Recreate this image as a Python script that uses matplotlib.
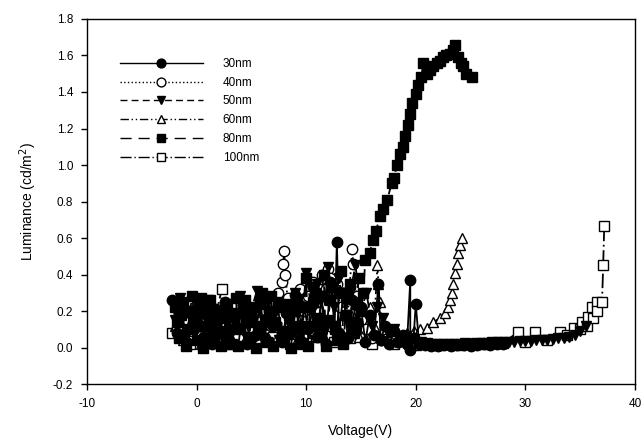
import matplotlib
matplotlib.use("Agg")
import matplotlib.pyplot as plt

plt.rcParams['font.family'] = ['Liberation Sans', 'DejaVu Sans']
plt.rcParams['axes.unicode_minus'] = False

# ---- data ----
volt_30 = [
    -2.2, -1.8, -1.4, -1.0, -0.6, -0.2, 0.2, 0.6, 1.0, 1.4,
    1.8, 2.2, 2.6, 3.0, 3.4, 3.8, 4.2, 4.6, 5.0, 5.4,
    5.8, 6.2, 6.6, 7.0, 7.4, 7.8, 8.2, 8.6, 9.0, 9.4,
    9.8, 10.2, 10.6, 11.0, 11.4, 11.8, 12.2, 12.6, 12.8, 13.0,
    13.4, 13.8, 14.2, 14.6, 15.0, 15.4, 15.8, 16.2, 16.6, 16.8,
    17.2, 17.6, 18.0, 18.4, 18.8, 19.2, 19.5, 19.5, 19.8, 20.0,
    20.3, 20.8, 21.4, 22.0, 22.6, 23.2, 23.8, 24.4, 25.0, 25.6,
    26.2, 26.8, 27.4, 28.0]
lum_30 = [
    0.26, 0.08, 0.22, 0.03, 0.19, 0.10, 0.24, 0.05, 0.17, 0.02,
    0.21, 0.09, 0.25, 0.04, 0.16, 0.11, 0.23, 0.02, 0.18, 0.07,
    0.27, 0.05, 0.20, 0.12, 0.24, 0.03, 0.19, 0.08, 0.29, 0.04,
    0.22, 0.10, 0.33, 0.06, 0.28, 0.02, 0.36, 0.12, 0.58, 0.08,
    0.30, 0.05, 0.26, 0.14, 0.22, 0.03, 0.18, 0.07, 0.35, 0.04,
    0.12, 0.02, 0.09, 0.03, 0.07, 0.02, 0.37, -0.015, 0.05, 0.24,
    0.02, 0.015, 0.01, 0.01, 0.015, 0.01, 0.012, 0.015, 0.01, 0.015,
    0.02, 0.015, 0.02, 0.02]

volt_40 = [
    -1.8, -1.0, -0.2, 0.6, 1.4, 2.2, 3.0, 3.8, 4.6, 5.4,
    6.2, 6.8, 7.4, 7.8, 7.9, 8.0, 8.1, 8.3, 8.6, 9.0,
    9.4, 9.8, 10.2, 10.6, 11.0, 11.4, 11.8, 12.0, 12.2, 12.5,
    12.8, 13.1, 13.4, 13.8, 14.2, 14.3, 14.6, 15.0, 15.5, 16.0,
    16.8, 17.6, 18.4, 19.2]
lum_40 = [
    0.10, 0.03, 0.15, 0.05, 0.12, 0.02, 0.18, 0.06, 0.14, 0.04,
    0.20, 0.12, 0.30, 0.36, 0.46, 0.53, 0.40, 0.27, 0.22, 0.15,
    0.32, 0.20, 0.28, 0.36, 0.25, 0.40, 0.32, 0.43, 0.38, 0.30,
    0.35, 0.22, 0.30, 0.18, 0.54, 0.46, 0.28, 0.15, 0.10, 0.05,
    0.04, 0.03, 0.03, 0.02]

volt_50 = [
    -2.0, -1.5, -1.0, -0.5, 0.0, 0.5, 1.0, 1.5, 2.0, 2.5,
    3.0, 3.5, 4.0, 4.5, 5.0, 5.5, 6.0, 6.5, 7.0, 7.5,
    8.0, 8.5, 9.0, 9.5, 10.0, 10.5, 11.0, 11.5, 12.0, 12.5,
    13.0, 13.5, 14.0, 14.5, 15.0, 15.5, 16.0, 16.5, 17.0, 17.5,
    18.0, 18.5, 19.0, 19.5, 20.0, 20.5, 21.0, 21.5, 22.0, 22.5,
    23.0, 23.5, 24.0, 24.5, 25.0, 25.5, 26.0, 26.5, 27.0, 27.5,
    28.0, 28.5, 29.0, 29.5, 30.0, 30.5, 31.0, 31.5, 32.0, 32.5,
    33.0, 33.5, 34.0, 34.5, 35.0, 35.5]
lum_50 = [
    0.15, 0.27, 0.06, 0.20, 0.24, 0.03, 0.26, 0.11, 0.19, 0.04,
    0.24, 0.15, 0.28, 0.06, 0.21, 0.31, 0.09, 0.25, 0.17, 0.04,
    0.22, 0.12, 0.30, 0.07, 0.41, 0.20, 0.35, 0.10, 0.44, 0.22,
    0.38, 0.16, 0.30, 0.45, 0.20, 0.30, 0.12, 0.22, 0.16, 0.08,
    0.10, 0.05, 0.06, 0.04, 0.03, 0.03, 0.025, 0.02, 0.02, 0.02,
    0.02, 0.02, 0.02, 0.025, 0.02, 0.025, 0.025, 0.025, 0.03, 0.03,
    0.03, 0.03, 0.03, 0.035, 0.035, 0.035, 0.04, 0.04, 0.04, 0.045,
    0.05, 0.055, 0.06, 0.07, 0.09, 0.12]

volt_60 = [
    -2.0, -1.2, -0.4, 0.4, 1.2, 2.0, 2.8, 3.6, 4.4, 5.2,
    6.0, 6.8, 7.6, 8.4, 9.2, 10.0, 10.8, 11.6, 12.4, 13.2,
    14.0, 14.8, 15.4, 15.8, 16.2, 16.5, 16.6, 16.7, 17.0, 17.5,
    18.0, 18.6, 19.2, 19.8, 20.4, 21.0, 21.6, 22.2, 22.7, 22.9,
    23.1, 23.3, 23.4, 23.6, 23.8, 23.9, 24.0, 24.2]
lum_60 = [
    0.12, 0.04, 0.09, 0.02, 0.11, 0.05, 0.08, 0.03, 0.10, 0.04,
    0.07, 0.13, 0.05, 0.10, 0.04, 0.08, 0.15, 0.06, 0.12, 0.05,
    0.10, 0.06, 0.15, 0.22, 0.12, 0.45, 0.35, 0.25, 0.10, 0.06,
    0.07, 0.06, 0.08, 0.09, 0.10, 0.11, 0.14, 0.16, 0.19, 0.22,
    0.26, 0.30, 0.35, 0.41, 0.46, 0.52, 0.56, 0.60]

volt_80 = [
    -2.0, -1.8, -1.6, -1.4, -1.2, -1.0, -0.8, -0.6, -0.4, -0.2,
    0.0, 0.2, 0.4, 0.6, 0.8, 1.0, 1.2, 1.4, 1.6, 1.8,
    2.0, 2.2, 2.4, 2.6, 2.8, 3.0, 3.2, 3.4, 3.6, 3.8,
    4.0, 4.2, 4.4, 4.6, 4.8, 5.0, 5.2, 5.4, 5.6, 5.8,
    6.0, 6.2, 6.4, 6.6, 6.8, 7.0, 7.2, 7.4, 7.6, 7.8,
    8.0, 8.2, 8.4, 8.6, 8.8, 9.0, 9.2, 9.4, 9.6, 9.8,
    10.0, 10.2, 10.4, 10.6, 10.8, 11.0, 11.2, 11.4, 11.6, 11.8,
    12.0, 12.2, 12.4, 12.6, 12.8, 13.0, 13.2, 13.4, 13.6, 13.8,
    14.0, 14.2, 14.4, 14.6, 14.8, 15.0, 15.2,
    15.4, 15.8, 16.1, 16.4, 16.7, 17.0, 17.4, 17.8, 18.0, 18.3,
    18.6, 18.8, 19.0, 19.3, 19.5, 19.7, 20.0, 20.2, 20.5, 20.7,
    21.0, 21.3, 21.6, 21.9, 22.2, 22.5, 22.8, 23.1, 23.4, 23.6,
    23.9, 24.1, 24.3, 24.6, 25.1]
lum_80 = [
    0.22, 0.14, 0.05, 0.18, 0.25, 0.01, 0.10, 0.20, 0.28, 0.15,
    0.04, 0.19, 0.27, 0.00, 0.12, 0.21, 0.26, 0.08, 0.03, 0.15,
    0.18, 0.01, 0.08, 0.16, 0.21, 0.10, 0.02, 0.19, 0.27, 0.01,
    0.10, 0.20, 0.26, 0.14, 0.05, 0.17, 0.22, 0.00, 0.12, 0.24,
    0.30, 0.15, 0.03, 0.20, 0.28, 0.01, 0.14, 0.25, 0.22, 0.09,
    0.05, 0.24, 0.18, 0.00, 0.10, 0.20, 0.26, 0.12, 0.02, 0.22,
    0.38, 0.01, 0.12, 0.25, 0.30, 0.16, 0.06, 0.28, 0.40, 0.01,
    0.15, 0.26, 0.33, 0.10, 0.04, 0.30, 0.42, 0.02, 0.18, 0.27,
    0.35, 0.14, 0.08, 0.24, 0.38, 0.20, 0.30,
    0.48, 0.52, 0.59, 0.64, 0.72, 0.76, 0.81, 0.90, 0.93, 1.00,
    1.06, 1.10, 1.16, 1.22, 1.28, 1.34, 1.39, 1.44, 1.48, 1.56,
    1.50, 1.52, 1.54, 1.56, 1.57, 1.59, 1.60, 1.61, 1.63, 1.66,
    1.59, 1.56, 1.54, 1.50, 1.48]

volt_100 = [
    -2.2, -1.7, -1.5, -1.2, -0.6, 0.6, 1.2, 2.3, 2.3, 3.0,
    4.0, 5.5, 7.0, 8.5, 10.0, 11.0, 12.5, 14.0, 14.5, 16.0,
    18.0, 20.0, 22.0, 24.0, 26.0, 28.0, 29.3, 30.0, 30.9, 32.0,
    33.2, 33.8, 34.4, 35.0, 35.2, 35.6, 35.7, 36.1, 36.2, 36.5,
    36.5, 37.0, 37.1, 37.2]
lum_100 = [
    0.08, 0.14, 0.06, 0.09, 0.02, 0.145, 0.03, 0.32, 0.05, 0.02,
    0.05, 0.03, 0.06, 0.02, 0.04, 0.32, 0.03, 0.05, 0.11, 0.02,
    0.02, 0.015, 0.015, 0.015, 0.02, 0.025, 0.085, 0.03, 0.085, 0.04,
    0.085, 0.07, 0.11, 0.10, 0.14, 0.12, 0.17, 0.22, 0.16, 0.25,
    0.20, 0.25, 0.45, 0.665]

fig = plt.figure(figsize=(6.42, 4.41), dpi=100)
ax = fig.add_axes([0.1355, 0.129, 0.8535, 0.828])

ms = 7.5
lw = 1.3
ax.plot(volt_30, lum_30, color='black', lw=lw, ls='-', marker='o', ms=ms,
        mfc='black', mec='black', label='30nm', zorder=5)
ax.plot(volt_40, lum_40, color='black', lw=lw, ls=':', marker='o', ms=ms,
        mfc='white', mec='black', label='40nm', zorder=4)
ax.plot(volt_50, lum_50, color='black', lw=lw, ls=(0, (5, 3)), marker='v', ms=ms,
        mfc='black', mec='black', label='50nm', zorder=6)
ax.plot(volt_60, lum_60, color='black', lw=lw, ls=(0, (6, 2, 1, 2, 1, 2)), marker='^', ms=ms,
        mfc='white', mec='black', label='60nm', zorder=3)
ax.plot(volt_80, lum_80, color='black', lw=lw, ls=(0, (8, 5)), marker='s', ms=ms,
        mfc='black', mec='black', label='80nm', zorder=7)
ax.plot(volt_100, lum_100, color='black', lw=lw, ls=(0, (8, 2, 1, 2)), marker='s', ms=ms,
        mfc='white', mec='black', label='100nm', zorder=2)

ax.set_xlim(-10, 40)
ax.set_ylim(-0.2, 1.8)
ax.set_xticks([-10, 0, 10, 20, 30, 40])
ax.set_yticks([-0.2, 0.0, 0.2, 0.4, 0.6, 0.8, 1.0, 1.2, 1.4, 1.6, 1.8])
ax.set_yticklabels(['-0.2', '0.0', '0.2', '0.4', '0.6', '0.8', '1.0', '1.2', '1.4', '1.6', '1.8'])
ax.tick_params(direction='out', length=4, width=1, labelsize=8.5, pad=6)
for sp in ax.spines.values():
    sp.set_linewidth(1)

ax.set_xlabel('Voltage(V)', fontsize=10, labelpad=10)
ax.set_ylabel('Luminance (cd/m$^2$)', fontsize=10, labelpad=10)

leg = ax.legend(loc='upper left', bbox_to_anchor=(0.06, 0.893), frameon=False,
                fontsize=8.5, handlelength=7.0, handletextpad=1.7, labelspacing=0.57,
                borderpad=0, borderaxespad=0, markerscale=0.85)
for h in leg.legend_handles:
    h.set_linewidth(1.0)

fig.savefig('out.png', dpi=100)
